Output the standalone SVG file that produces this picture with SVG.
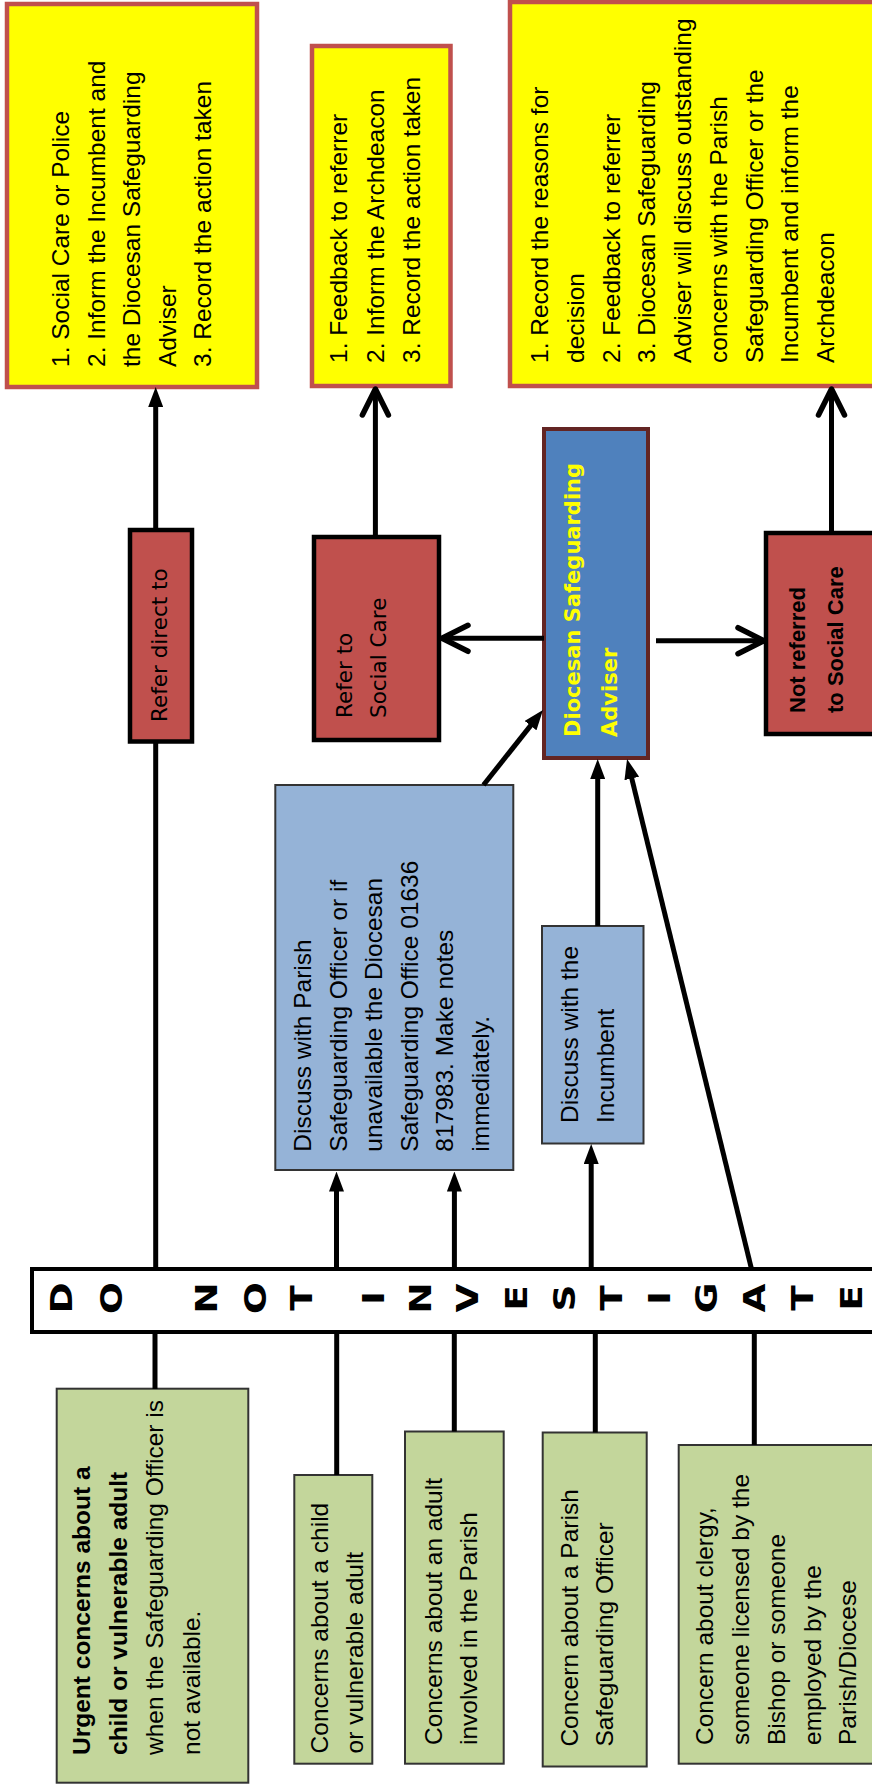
<svg xmlns="http://www.w3.org/2000/svg" width="872" height="1787" viewBox="0 0 872 1787">
<style>
.t{font-family:"Liberation Sans",Arial,sans-serif;font-size:24.5px;fill:#000}
.tb{font-weight:bold}
.dv{font-family:"DejaVu Sans",Verdana,sans-serif;font-size:21.5px;fill:#000}
.dsa{font-family:"DejaVu Sans",Verdana,sans-serif;font-weight:bold;font-size:21px;fill:#ffff00}
.nr{font-family:"Liberation Sans",Arial,sans-serif;font-weight:bold;font-size:22px;fill:#000}
.ltr{font-family:"DejaVu Sans",Verdana,sans-serif;font-weight:bold;font-size:30px;text-anchor:middle;dominant-baseline:central;fill:#000}
.yb{fill:#ffff00;stroke:#c0504d;stroke-width:4.5}
.rb{fill:#c0504d;stroke:#000;stroke-width:4.5}
.db{fill:#4f81bd;stroke:#632523;stroke-width:4}
.bb{fill:#95b3d7;stroke:#333;stroke-width:2}
.gb{fill:#c3d69b;stroke:#333;stroke-width:2}
.bar{fill:#fff;stroke:#000;stroke-width:4}
.ln{stroke:#000;stroke-width:5;fill:none}
</style>
<defs>
<marker id="tri" markerUnits="userSpaceOnUse" viewBox="0 0 20 15" markerWidth="20" markerHeight="15" refX="2" refY="7.5" orient="auto">
<path d="M0,0 L20,7.5 L0,15 z" fill="#000"/>
</marker>
<marker id="open" markerUnits="userSpaceOnUse" viewBox="-32 -18 36 36" markerWidth="36" markerHeight="36" refX="0" refY="0" orient="auto" overflow="visible">
<path d="M-26,-13 L0,0 L-26,13" fill="none" stroke="#000" stroke-width="5.5" stroke-linecap="round" stroke-linejoin="round"/>
</marker>
</defs>
<rect width="872" height="1787" fill="#fff"/>

<g id="yellow1">
<rect class="yb" x="7" y="4" width="250" height="383"/>
<text class="t" transform="translate(69,367) rotate(-90)"><tspan x="0" y="0">1. Social Care or Police</tspan><tspan x="0" y="35.5">2. Inform the Incumbent and</tspan><tspan x="0" y="71">the Diocesan Safeguarding</tspan><tspan x="0" y="106.5">Adviser</tspan><tspan x="0" y="142">3. Record the action taken</tspan></text>
</g>
<g id="yellow2">
<rect class="yb" x="312" y="46" width="138.5" height="340"/>
<text class="t" transform="translate(347,363) rotate(-90)"><tspan x="0" y="0">1. Feedback to referrer</tspan><tspan x="0" y="36.5">2. Inform the Archdeacon</tspan><tspan x="0" y="73">3. Record the action taken</tspan></text>
</g>
<g id="yellow3">
<rect class="yb" x="510" y="2" width="400" height="384"/>
<text class="t" transform="translate(548,363) rotate(-90)"><tspan x="0" y="0">1. Record the reasons for</tspan><tspan x="0" y="35.75">decision</tspan><tspan x="0" y="71.5">2. Feedback to referrer</tspan><tspan x="0" y="107.25">3. Diocesan Safeguarding</tspan><tspan x="0" y="143">Adviser will discuss outstanding</tspan><tspan x="0" y="178.75">concerns with the Parish</tspan><tspan x="0" y="214.5">Safeguarding Officer or the</tspan><tspan x="0" y="250.25">Incumbent and inform the</tspan><tspan x="0" y="286">Archdeacon</tspan></text>
</g>

<g id="refer-direct">
<rect class="rb" x="130" y="530" width="62" height="211.5"/>
<text class="dv" transform="translate(167,722) rotate(-90)">Refer direct to</text>
</g>
<g id="refer-social-care">
<rect class="rb" x="314" y="537" width="125" height="203"/>
<text class="dv" transform="translate(352,718) rotate(-90)"><tspan x="0" y="0">Refer to</tspan><tspan x="0" y="34">Social Care</tspan></text>
</g>
<g id="dsa">
<rect class="db" x="544" y="429" width="104" height="329"/>
<text class="dsa" transform="translate(580,737) rotate(-90)"><tspan x="0" y="0">Diocesan Safeguarding</tspan><tspan x="0" y="37">Adviser</tspan></text>
</g>
<g id="not-referred">
<rect class="rb" x="766" y="533" width="120" height="201"/>
<text class="nr" transform="translate(805,713) rotate(-90)"><tspan x="0" y="0">Not referred</tspan><tspan x="0" y="38">to Social Care</tspan></text>
</g>

<g id="discuss-parish">
<rect class="bb" x="275.3" y="785" width="238" height="385"/>
<text class="t" transform="translate(311,1151.7) rotate(-90)"><tspan x="0" y="0">Discuss with Parish</tspan><tspan x="0" y="35.6">Safeguarding Officer or if</tspan><tspan x="0" y="71.2">unavailable the Diocesan</tspan><tspan x="0" y="106.8">Safeguarding Office 01636</tspan><tspan x="0" y="142.4">817983. Make notes</tspan><tspan x="0" y="178">immediately.</tspan></text>
</g>
<g id="discuss-incumbent">
<rect class="bb" x="542" y="926" width="101.5" height="217.5"/>
<text class="t" transform="translate(578,1123) rotate(-90)"><tspan x="0" y="0">Discuss with the</tspan><tspan x="0" y="36">Incumbent</tspan></text>
</g>

<g id="do-not-investigate">
<rect class="bar" x="32" y="1269" width="870" height="63"/>
<g class="ltr">
<text transform="translate(61.7,1298) rotate(-90) scale(1.25,1)">D</text>
<text transform="translate(111.7,1298) rotate(-90) scale(1.25,1)">O</text>
<text transform="translate(206.7,1298) rotate(-90) scale(1.25,1)">N</text>
<text transform="translate(255,1298) rotate(-90) scale(1.25,1)">O</text>
<text transform="translate(301.7,1298) rotate(-90) scale(1.25,1)">T</text>
<text transform="translate(373.3,1298) rotate(-90) scale(1.25,1)">I</text>
<text transform="translate(420,1298) rotate(-90) scale(1.25,1)">N</text>
<text transform="translate(467.7,1298) rotate(-90) scale(1.25,1)">V</text>
<text transform="translate(516,1298) rotate(-90) scale(1.25,1)">E</text>
<text transform="translate(564.3,1298) rotate(-90) scale(1.25,1)">S</text>
<text transform="translate(611,1298) rotate(-90) scale(1.25,1)">T</text>
<text transform="translate(659.3,1298) rotate(-90) scale(1.25,1)">I</text>
<text transform="translate(706,1298) rotate(-90) scale(1.25,1)">G</text>
<text transform="translate(754.3,1298) rotate(-90) scale(1.25,1)">A</text>
<text transform="translate(802.7,1298) rotate(-90) scale(1.25,1)">T</text>
<text transform="translate(851,1298) rotate(-90) scale(1.25,1)">E</text>
</g>
</g>

<g id="urgent">
<rect class="gb" x="56.7" y="1388.7" width="191.6" height="394"/>
<text class="t" transform="translate(90,1755) rotate(-90)"><tspan class="tb" x="0" y="0">Urgent concerns about a</tspan><tspan class="tb" x="0" y="36.5">child or vulnerable adult</tspan><tspan x="0" y="73">when the Safeguarding Officer is</tspan><tspan x="0" y="109.5">not available.</tspan></text>
</g>
<g id="concern-child">
<rect class="gb" x="294.3" y="1475" width="78" height="288.7"/>
<text class="t" transform="translate(328,1753.4) rotate(-90)"><tspan x="0" y="0">Concerns about a child</tspan><tspan x="0" y="35">or vulnerable adult</tspan></text>
</g>
<g id="concern-adult">
<rect class="gb" x="405" y="1431.5" width="98.7" height="332.2"/>
<text class="t" transform="translate(442,1745) rotate(-90)"><tspan x="0" y="0">Concerns about an adult</tspan><tspan x="0" y="34.5">involved in the Parish</tspan></text>
</g>
<g id="concern-pso">
<rect class="gb" x="542.7" y="1432.5" width="104" height="334"/>
<text class="t" transform="translate(577.5,1746.6) rotate(-90)"><tspan x="0" y="0">Concern about a Parish</tspan><tspan x="0" y="35">Safeguarding Officer</tspan></text>
</g>
<g id="concern-clergy">
<rect class="gb" x="678.7" y="1445" width="220" height="318.7"/>
<text class="t" transform="translate(713,1745) rotate(-90)"><tspan x="0" y="0">Concern about clergy,</tspan><tspan x="0" y="36">someone licensed by the</tspan><tspan x="0" y="72">Bishop or someone</tspan><tspan x="0" y="107.5">employed by the</tspan><tspan x="0" y="143">Parish/Diocese</tspan></text>
</g>

<g id="connectors">
<line class="ln" x1="155" y1="1332" x2="155" y2="1389"/>
<line class="ln" x1="336.7" y1="1332" x2="336.7" y2="1475"/>
<line class="ln" x1="454.3" y1="1332" x2="454.3" y2="1431.5"/>
<line class="ln" x1="595.3" y1="1332" x2="595.3" y2="1432.5"/>
<line class="ln" x1="754.3" y1="1332" x2="754.3" y2="1445"/>
<line class="ln" x1="155.7" y1="1269" x2="155.7" y2="741.5"/>
<line class="ln" x1="155.7" y1="530" x2="155.7" y2="405" marker-end="url(#tri)"/>
<line class="ln" x1="336.5" y1="1269" x2="336.5" y2="1189.5" marker-end="url(#tri)"/>
<line class="ln" x1="454.4" y1="1269" x2="454.4" y2="1189.5" marker-end="url(#tri)"/>
<line class="ln" x1="591.2" y1="1269" x2="591.2" y2="1162" marker-end="url(#tri)"/>
<line class="ln" x1="597.7" y1="926" x2="597.7" y2="777" marker-end="url(#tri)"/>
<line class="ln" x1="751.5" y1="1269" x2="631.3" y2="776.5" marker-end="url(#tri)"/>
<line class="ln" x1="483.5" y1="785" x2="531.8" y2="724.1" marker-end="url(#tri)"/>
<line class="ln" x1="375.4" y1="537" x2="375.4" y2="389" marker-end="url(#open)"/>
<line class="ln" x1="831.5" y1="533" x2="831.5" y2="389" marker-end="url(#open)"/>
<line class="ln" x1="544" y1="638.3" x2="442" y2="638.3" marker-end="url(#open)"/>
<line class="ln" x1="656" y1="640.7" x2="764" y2="640.7" marker-end="url(#open)"/>
</g>
</svg>
